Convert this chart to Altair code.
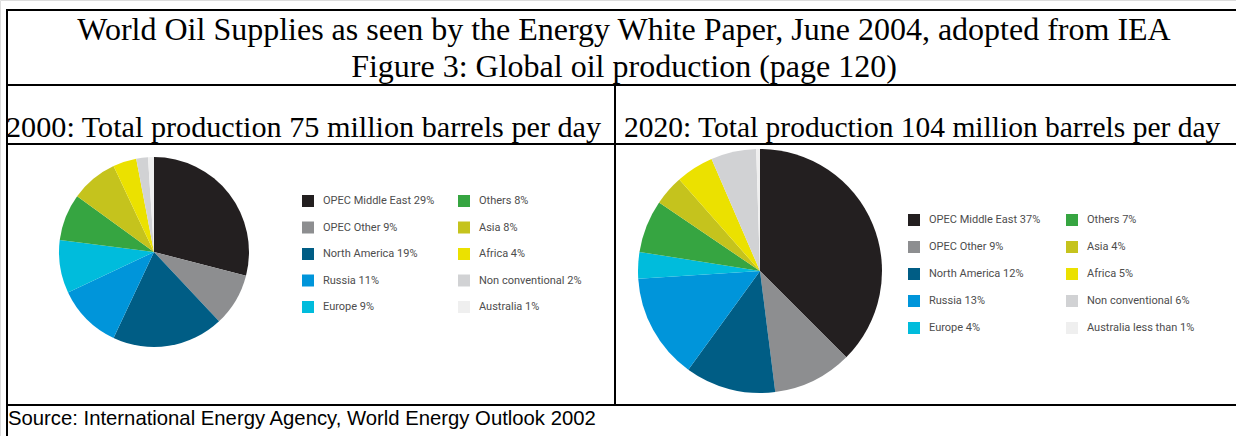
import altair as alt
import pandas as pd

# ---------------- data ----------------
categories = ["OPEC Middle East", "OPEC Other", "North America", "Russia", "Europe",
              "Others", "Asia", "Africa", "Non conventional", "Australia"]
colors = ["#231f20", "#8d8e90", "#005d85", "#0095da", "#00bcdc",
          "#36a541", "#c5c31d", "#ebe100", "#d1d2d4", "#efefef"]

pct_2000 = ["29%", "9%", "19%", "11%", "9%", "8%", "8%", "4%", "2%", "1%"]
share_2000 = [29, 9, 19, 11, 9, 8, 8, 4, 2, 1]

pct_2020 = ["37%", "9%", "12%", "13%", "4%", "7%", "4%", "5%", "6%", "less than 1%"]
share_2020 = [37.5, 10.5, 12, 14, 3.5, 7, 4, 5, 6, 0.5]  # slice sizes

title_1 = "World Oil Supplies as seen by the Energy White Paper, June 2004, adopted from IEA"
title_2 = "Figure 3: Global oil production (page 120)"
sub_2000 = "2000: Total production 75 million barrels per day"
sub_2020 = "2020: Total production 104 million barrels per day"
source = "Source: International Energy Agency, World Energy Outlook 2002"

W, H = 1236, 436


def pie_frame(pcts, shares):
    return pd.DataFrame({
        "label": [f"{c} {p}" for c, p in zip(categories, pcts)],
        "share": shares,
        "idx": list(range(len(categories))),
    })


def pie(df, cx, cy, r, lx, ly, col_pad, row_pad):
    dom = list(df["label"])
    return alt.Chart(df).mark_arc(stroke=None, strokeWidth=0).encode(
        theta=alt.Theta("share:Q", stack=True),
        order=alt.Order("idx:Q", sort="ascending"),
        color=alt.Color(
            "label:N",
            scale=alt.Scale(domain=dom, range=colors),
            legend=alt.Legend(
                orient="none", legendX=lx, legendY=ly, title=None,
                columns=2, columnPadding=col_pad, rowPadding=row_pad,
                symbolType="square", symbolSize=144, symbolStrokeWidth=0,
                symbolOpacity=1, labelFont="Roboto", labelFontSize=11,
                labelColor="#4d4d4d", labelOffset=9, labelLimit=300,
                padding=0,
            ),
        ),
        x=alt.value(cx), y=alt.value(cy), radius=alt.value(r),
    )


one = pd.DataFrame({"k": [0]})


def hline(y, x1, x2):
    return alt.Chart(one).mark_rule(color="black", strokeWidth=2).encode(
        x=alt.value(x1), x2=alt.value(x2), y=alt.value(y))


def vline(x, y1, y2):
    return alt.Chart(one).mark_rule(color="black", strokeWidth=2).encode(
        x=alt.value(x), y=alt.value(y1), y2=alt.value(y2))


def text(s, x, y, font, size, align):
    return alt.Chart(one).mark_text(
        font=font, fontSize=size, align=align, baseline="middle", color="black"
    ).encode(x=alt.value(x), y=alt.value(y), text=alt.value(s))


layers = [
    hline(10, 6, W), hline(85, 6, W), hline(144, 6, W), hline(405, 6, W),
    vline(7, 9, H), vline(615, 84, 406),
    text(title_1, 624, 30, "Liberation Serif", 32, "center"),
    text(title_2, 624, 67, "Liberation Serif", 32, "center"),
    text(sub_2000, 6, 128, "Liberation Serif", 30.2, "left"),
    text(sub_2020, 624, 128, "Liberation Serif", 29.5, "left"),
    text(source, 8, 419, "Liberation Sans", 20.3, "left"),
    pie(pie_frame(pct_2000, share_2000), 154, 252, 95, 302, 195, 23, 14.5),
    pie(pie_frame(pct_2020, share_2020), 760, 271, 122, 908, 214, 25, 15),
]

chart = alt.layer(*layers).resolve_scale(
    color="independent", theta="independent"
).properties(
    width=W, height=H, autosize=alt.AutoSizeParams(type="none"), padding=0
).configure_view(stroke=None).configure(background="white")

chart.save("out.html", embed_options={"renderer": "svg", "actions": False})
